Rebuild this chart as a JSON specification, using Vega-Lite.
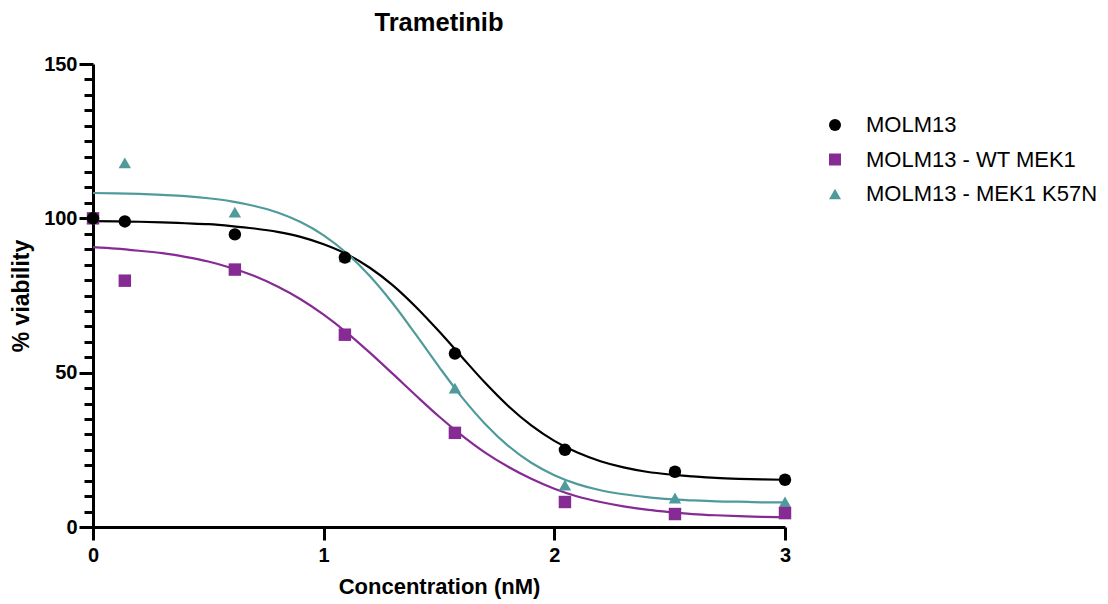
{
  "$schema": "https://vega.github.io/schema/vega-lite/v6.json",
  "autosize": {"type": "none"},
  "width": 692,
  "height": 463,
  "padding": {"left": 93, "top": 64, "right": 323, "bottom": 77},
  "background": "white",
  "config": {
    "view": {"stroke": null},
    "font": "Liberation Sans"
  },
  "title": {
    "text": "Trametinib",
    "font": "Liberation Sans",
    "fontSize": 25.5,
    "fontWeight": "bold",
    "color": "black",
    "anchor": "middle",
    "frame": "group",
    "offset": 18
  },
  "resolve": {"legend": {"color": "independent", "shape": "independent"}},
  "datasets": {
    "points": [
      {"series": "MOLM13 - MEK1 K57N", "conc": 0, "viability": 100},
      {"series": "MOLM13 - MEK1 K57N", "conc": 0.138, "viability": 118},
      {"series": "MOLM13 - MEK1 K57N", "conc": 0.615, "viability": 102},
      {"series": "MOLM13 - MEK1 K57N", "conc": 1.092, "viability": 87.5},
      {"series": "MOLM13 - MEK1 K57N", "conc": 1.569, "viability": 45},
      {"series": "MOLM13 - MEK1 K57N", "conc": 2.046, "viability": 13.6},
      {"series": "MOLM13 - MEK1 K57N", "conc": 2.523, "viability": 9.4},
      {"series": "MOLM13 - MEK1 K57N", "conc": 3.0, "viability": 8.1},
      {"series": "MOLM13 - WT MEK1", "conc": 0, "viability": 100},
      {"series": "MOLM13 - WT MEK1", "conc": 0.138, "viability": 79.8},
      {"series": "MOLM13 - WT MEK1", "conc": 0.615, "viability": 83.4},
      {"series": "MOLM13 - WT MEK1", "conc": 1.092, "viability": 62.3},
      {"series": "MOLM13 - WT MEK1", "conc": 1.569, "viability": 30.5},
      {"series": "MOLM13 - WT MEK1", "conc": 2.046, "viability": 8.1},
      {"series": "MOLM13 - WT MEK1", "conc": 2.523, "viability": 4.2},
      {"series": "MOLM13 - WT MEK1", "conc": 3.0, "viability": 4.5},
      {"series": "MOLM13", "conc": 0, "viability": 100},
      {"series": "MOLM13", "conc": 0.138, "viability": 99},
      {"series": "MOLM13", "conc": 0.615, "viability": 94.8},
      {"series": "MOLM13", "conc": 1.092, "viability": 87.3},
      {"series": "MOLM13", "conc": 1.569, "viability": 56.2},
      {"series": "MOLM13", "conc": 2.046, "viability": 25},
      {"series": "MOLM13", "conc": 2.523, "viability": 17.9},
      {"series": "MOLM13", "conc": 3.0, "viability": 15.3}
    ],
    "curves": [
      {"series": "MOLM13", "conc": 0.0, "viability": 99.1},
      {"series": "MOLM13", "conc": 0.1, "viability": 99.0},
      {"series": "MOLM13", "conc": 0.2, "viability": 98.9},
      {"series": "MOLM13", "conc": 0.3, "viability": 98.7},
      {"series": "MOLM13", "conc": 0.4, "viability": 98.4},
      {"series": "MOLM13", "conc": 0.5, "viability": 98.1},
      {"series": "MOLM13", "conc": 0.6, "viability": 97.5},
      {"series": "MOLM13", "conc": 0.7, "viability": 96.7},
      {"series": "MOLM13", "conc": 0.8, "viability": 95.6},
      {"series": "MOLM13", "conc": 0.9, "viability": 94.0},
      {"series": "MOLM13", "conc": 1.0, "viability": 91.6},
      {"series": "MOLM13", "conc": 1.1, "viability": 88.4},
      {"series": "MOLM13", "conc": 1.2, "viability": 84.0},
      {"series": "MOLM13", "conc": 1.3, "viability": 78.3},
      {"series": "MOLM13", "conc": 1.4, "viability": 71.3},
      {"series": "MOLM13", "conc": 1.5, "viability": 63.4},
      {"series": "MOLM13", "conc": 1.6, "viability": 55.0},
      {"series": "MOLM13", "conc": 1.7, "viability": 46.7},
      {"series": "MOLM13", "conc": 1.8, "viability": 39.2},
      {"series": "MOLM13", "conc": 1.9, "viability": 32.9},
      {"series": "MOLM13", "conc": 2.0, "viability": 27.9},
      {"series": "MOLM13", "conc": 2.1, "viability": 24.1},
      {"series": "MOLM13", "conc": 2.2, "viability": 21.3},
      {"series": "MOLM13", "conc": 2.3, "viability": 19.3},
      {"series": "MOLM13", "conc": 2.4, "viability": 17.9},
      {"series": "MOLM13", "conc": 2.5, "viability": 17.0},
      {"series": "MOLM13", "conc": 2.6, "viability": 16.4},
      {"series": "MOLM13", "conc": 2.7, "viability": 15.9},
      {"series": "MOLM13", "conc": 2.8, "viability": 15.6},
      {"series": "MOLM13", "conc": 2.9, "viability": 15.4},
      {"series": "MOLM13", "conc": 3.0, "viability": 15.3},
      {"series": "MOLM13 - WT MEK1", "conc": 0.0, "viability": 90.7},
      {"series": "MOLM13 - WT MEK1", "conc": 0.1, "viability": 90.2},
      {"series": "MOLM13 - WT MEK1", "conc": 0.2, "viability": 89.5},
      {"series": "MOLM13 - WT MEK1", "conc": 0.3, "viability": 88.7},
      {"series": "MOLM13 - WT MEK1", "conc": 0.4, "viability": 87.5},
      {"series": "MOLM13 - WT MEK1", "conc": 0.5, "viability": 86.0},
      {"series": "MOLM13 - WT MEK1", "conc": 0.6, "viability": 83.9},
      {"series": "MOLM13 - WT MEK1", "conc": 0.7, "viability": 81.3},
      {"series": "MOLM13 - WT MEK1", "conc": 0.8, "viability": 77.9},
      {"series": "MOLM13 - WT MEK1", "conc": 0.9, "viability": 73.8},
      {"series": "MOLM13 - WT MEK1", "conc": 1.0, "viability": 68.8},
      {"series": "MOLM13 - WT MEK1", "conc": 1.1, "viability": 63.0},
      {"series": "MOLM13 - WT MEK1", "conc": 1.2, "viability": 56.5},
      {"series": "MOLM13 - WT MEK1", "conc": 1.3, "viability": 49.6},
      {"series": "MOLM13 - WT MEK1", "conc": 1.4, "viability": 42.6},
      {"series": "MOLM13 - WT MEK1", "conc": 1.5, "viability": 35.8},
      {"series": "MOLM13 - WT MEK1", "conc": 1.6, "viability": 29.6},
      {"series": "MOLM13 - WT MEK1", "conc": 1.7, "viability": 24.1},
      {"series": "MOLM13 - WT MEK1", "conc": 1.8, "viability": 19.5},
      {"series": "MOLM13 - WT MEK1", "conc": 1.9, "viability": 15.6},
      {"series": "MOLM13 - WT MEK1", "conc": 2.0, "viability": 12.4},
      {"series": "MOLM13 - WT MEK1", "conc": 2.1, "viability": 9.9},
      {"series": "MOLM13 - WT MEK1", "conc": 2.2, "viability": 8.1},
      {"series": "MOLM13 - WT MEK1", "conc": 2.3, "viability": 6.7},
      {"series": "MOLM13 - WT MEK1", "conc": 2.4, "viability": 5.6},
      {"series": "MOLM13 - WT MEK1", "conc": 2.5, "viability": 4.8},
      {"series": "MOLM13 - WT MEK1", "conc": 2.6, "viability": 4.2},
      {"series": "MOLM13 - WT MEK1", "conc": 2.7, "viability": 3.8},
      {"series": "MOLM13 - WT MEK1", "conc": 2.8, "viability": 3.5},
      {"series": "MOLM13 - WT MEK1", "conc": 2.9, "viability": 3.3},
      {"series": "MOLM13 - WT MEK1", "conc": 3.0, "viability": 3.1},
      {"series": "MOLM13 - MEK1 K57N", "conc": 0.0, "viability": 108.2},
      {"series": "MOLM13 - MEK1 K57N", "conc": 0.1, "viability": 108.1},
      {"series": "MOLM13 - MEK1 K57N", "conc": 0.2, "viability": 107.9},
      {"series": "MOLM13 - MEK1 K57N", "conc": 0.3, "viability": 107.6},
      {"series": "MOLM13 - MEK1 K57N", "conc": 0.4, "viability": 107.2},
      {"series": "MOLM13 - MEK1 K57N", "conc": 0.5, "viability": 106.5},
      {"series": "MOLM13 - MEK1 K57N", "conc": 0.6, "viability": 105.5},
      {"series": "MOLM13 - MEK1 K57N", "conc": 0.7, "viability": 104.0},
      {"series": "MOLM13 - MEK1 K57N", "conc": 0.8, "viability": 101.9},
      {"series": "MOLM13 - MEK1 K57N", "conc": 0.9, "viability": 98.8},
      {"series": "MOLM13 - MEK1 K57N", "conc": 1.0, "viability": 94.5},
      {"series": "MOLM13 - MEK1 K57N", "conc": 1.1, "viability": 88.7},
      {"series": "MOLM13 - MEK1 K57N", "conc": 1.2, "viability": 81.3},
      {"series": "MOLM13 - MEK1 K57N", "conc": 1.3, "viability": 72.4},
      {"series": "MOLM13 - MEK1 K57N", "conc": 1.4, "viability": 62.3},
      {"series": "MOLM13 - MEK1 K57N", "conc": 1.5, "viability": 51.9},
      {"series": "MOLM13 - MEK1 K57N", "conc": 1.6, "viability": 42.0},
      {"series": "MOLM13 - MEK1 K57N", "conc": 1.7, "viability": 33.4},
      {"series": "MOLM13 - MEK1 K57N", "conc": 1.8, "viability": 26.3},
      {"series": "MOLM13 - MEK1 K57N", "conc": 1.9, "viability": 20.8},
      {"series": "MOLM13 - MEK1 K57N", "conc": 2.0, "viability": 16.8},
      {"series": "MOLM13 - MEK1 K57N", "conc": 2.1, "viability": 13.9},
      {"series": "MOLM13 - MEK1 K57N", "conc": 2.2, "viability": 11.9},
      {"series": "MOLM13 - MEK1 K57N", "conc": 2.3, "viability": 10.6},
      {"series": "MOLM13 - MEK1 K57N", "conc": 2.4, "viability": 9.7},
      {"series": "MOLM13 - MEK1 K57N", "conc": 2.5, "viability": 9.0},
      {"series": "MOLM13 - MEK1 K57N", "conc": 2.6, "viability": 8.6},
      {"series": "MOLM13 - MEK1 K57N", "conc": 2.7, "viability": 8.3},
      {"series": "MOLM13 - MEK1 K57N", "conc": 2.8, "viability": 8.2},
      {"series": "MOLM13 - MEK1 K57N", "conc": 2.9, "viability": 8.0},
      {"series": "MOLM13 - MEK1 K57N", "conc": 3.0, "viability": 8.0}
    ]
  },
  "encoding": {
    "x": {
      "field": "conc",
      "type": "quantitative",
      "scale": {"domain": [0, 3], "nice": false, "zero": false},
      "axis": {
        "title": "Concentration (nM)",
        "values": [0, 1, 2, 3],
        "format": "d",
        "grid": false,
        "domainColor": "black",
        "domainWidth": 3,
        "tickColor": "black",
        "tickWidth": 3,
        "tickSize": 13,
        "labelFont": "Liberation Sans",
        "labelFontSize": 20,
        "labelFontWeight": "bold",
        "labelColor": "black",
        "labelPadding": 5,
        "labelFlush": false,
        "titleFont": "Liberation Sans",
        "titleFontSize": 22,
        "titleFontWeight": "bold",
        "titleColor": "black",
        "titlePadding": 11
      }
    },
    "y": {
      "field": "viability",
      "type": "quantitative",
      "scale": {"domain": [0, 150], "nice": false},
      "axis": {
        "title": "% viability",
        "values": [0, 5, 10, 15, 20, 25, 30, 35, 40, 45, 50, 55, 60, 65, 70, 75, 80, 85, 90, 95, 100, 105, 110, 115, 120, 125, 130, 135, 140, 145, 150],
        "labelExpr": "datum.value % 50 === 0 ? datum.label : ''",
        "grid": false,
        "domainColor": "black",
        "domainWidth": 3,
        "tickColor": "black",
        "tickWidth": 3,
        "tickSize": {"condition": {"test": "datum.value % 50 === 0", "value": 14}, "value": 9},
        "labelFont": "Liberation Sans",
        "labelFontSize": 20,
        "labelFontWeight": "bold",
        "labelColor": "black",
        "labelPadding": 2,
        "labelFlush": false,
        "labelOverlap": false,
        "titleFont": "Liberation Sans",
        "titleFontSize": 23,
        "titleFontWeight": "bold",
        "titleColor": "black",
        "titlePadding": 10
      }
    }
  },
  "layer": [
    {
      "data": {"name": "curves"},
      "mark": {"type": "line", "strokeWidth": 2.2, "interpolate": "monotone"},
      "encoding": {
        "color": {
          "field": "series",
          "type": "nominal",
          "legend": null,
          "scale": {
            "domain": ["MOLM13", "MOLM13 - WT MEK1", "MOLM13 - MEK1 K57N"],
            "range": ["#000000", "#862a94", "#4f9b9b"]
          }
        }
      }
    },
    {
      "data": {"name": "points"},
      "mark": {"type": "point", "filled": true, "opacity": 1, "size": 155},
      "encoding": {
        "shape": {
          "field": "series",
          "type": "nominal",
          "legend": null,
          "scale": {
            "domain": ["MOLM13", "MOLM13 - WT MEK1", "MOLM13 - MEK1 K57N"],
            "range": ["circle", "square", "triangle-up"]
          }
        },
        "color": {
          "field": "series",
          "type": "nominal",
          "scale": {
            "domain": ["MOLM13", "MOLM13 - WT MEK1", "MOLM13 - MEK1 K57N"],
            "range": ["#000000", "#862a94", "#4f9b9b"]
          },
          "legend": {
            "title": null,
            "orient": "none",
            "legendX": 731,
            "legendY": 50,
            "padding": 0,
            "labelFont": "Liberation Sans",
            "labelFontSize": 22,
            "labelColor": "black",
            "labelLimit": 0,
            "labelOffset": 20,
            "rowPadding": 12.5,
            "symbolSize": 144,
            "symbolStrokeWidth": 2.5,
            "encode": {
              "symbols": {
                "shape": {"value": {"expr": "datum.value === 'MOLM13' ? 'M-2.9,0H2.9M0.85,0A0.85,0.85,0,1,1,-0.85,0A0.85,0.85,0,1,1,0.85,0Z' : datum.value === 'MOLM13 - WT MEK1' ? 'M-2.9,0H2.9M-0.8,-0.8H0.8V0.8H-0.8Z' : 'M-2.9,0H2.9M0,-1L1,0.75H-1Z'"}},
                "stroke": {"value": {"expr": "scale('color', datum.value)"}},
                "strokeWidth": {"value": 2.5}
              }
            }
          }
        }
      }
    }
  ]
}
